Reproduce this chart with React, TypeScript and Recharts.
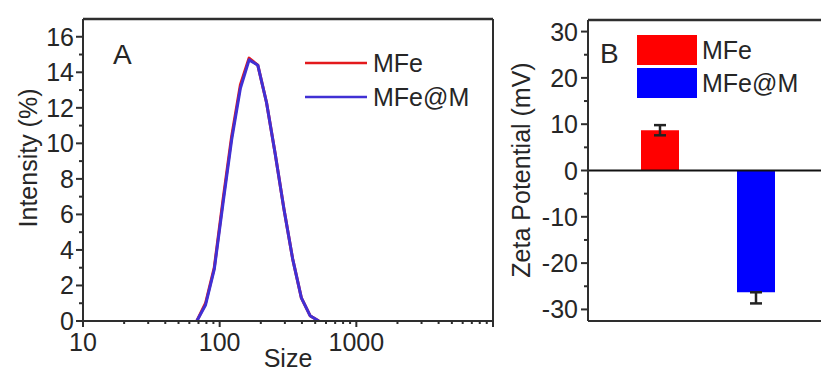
import React from 'react';
import {
  LineChart,
  Line,
  XAxis,
  YAxis,
  ReferenceLine,
  Legend,
  BarChart,
  Bar,
  Cell,
  ErrorBar,
} from 'recharts';

const FONT = '"Liberation Sans", Arial, Helvetica, sans-serif';
const TEXT = '#262626';
const AXIS = '#2e2e2e';

// ---------- Panel A: size distribution ----------
const sizes = [68.06, 78.82, 91.28, 105.7, 122.4, 141.8, 164.2, 190.1, 220.2, 255.0, 295.3, 342.0, 396.1, 458.7, 531.2];
const mfeIntensity = [0, 1.0, 3.0, 6.8, 10.4, 13.3, 14.8, 14.4, 12.3, 9.4, 6.3, 3.5, 1.3, 0.3, 0];
const mfemIntensity = [0, 0.9, 2.9, 6.6, 10.2, 13.1, 14.7, 14.4, 12.3, 9.4, 6.3, 3.5, 1.3, 0.3, 0];
const seriesNamesA = ['MFe', 'MFe@M'];
const seriesColorsA = ['#e3191c', '#4030d4'];
const xMajorTicks = [10, 100, 1000, 10000];
const xMajorLabels = ['10', '100', '1000', ''];
const xMinorTicks = [20, 30, 40, 50, 60, 70, 80, 90, 200, 300, 400, 500, 600, 700, 800, 900, 2000, 3000, 4000, 5000, 6000, 7000, 8000, 9000];
const yTicksA = [0, 1, 2, 3, 4, 5, 6, 7, 8, 9, 10, 11, 12, 13, 14, 15, 16];
const yLabelsA = [0, 2, 4, 6, 8, 10, 12, 14, 16];

// ---------- Panel B: zeta potential ----------
const zetaCategories = ['MFe', 'MFe@M'];
const zetaValues = [8.7, -26.3];
const zetaErrLow = [1.1, 2.4];
const zetaErrHigh = [1.1, 0];
const zetaColors = ['#ff0000', '#0000ff'];
const yTicksB = [-30, -25, -20, -15, -10, -5, 0, 5, 10, 15, 20, 25, 30];
const yLabelsB = [-30, -20, -10, 0, 10, 20, 30];

const dataA = sizes.map((s, i) => ({ size: s, mfe: mfeIntensity[i], mfem: mfemIntensity[i] }));
const dataB = zetaCategories.map((c, i) => ({
  name: c,
  zeta: zetaValues[i],
  err: zetaValues[i] >= 0 ? [zetaErrLow[i], zetaErrHigh[i]] : [zetaErrLow[i], zetaErrHigh[i]],
}));

const XTickA = ({ x, y, payload }: any) => {
  const v = payload.value;
  const idx = xMajorTicks.indexOf(v);
  const major = idx >= 0;
  return (
    <g>
      <line x1={x} x2={x} y1={y} y2={y + (major ? 6 : 3)} stroke={AXIS} strokeWidth={2} />
      {major && xMajorLabels[idx] ? (
        <text x={x} y={y + 30} textAnchor="middle" fontSize={25} fontFamily={FONT} fill={TEXT}>
          {xMajorLabels[idx]}
        </text>
      ) : null}
    </g>
  );
};

const makeYTick = (labels: number[], gap: number) => ({ x, y, payload }: any) => {
  const v = payload.value;
  const major = labels.includes(v);
  return (
    <g>
      <line x1={x - (major ? 7 : 4)} x2={x} y1={y} y2={y} stroke={AXIS} strokeWidth={2} />
      {major ? (
        <text x={x - gap} y={y} dy="0.36em" textAnchor="end" fontSize={25} fontFamily={FONT} fill={TEXT}>
          {String(v)}
        </text>
      ) : null}
    </g>
  );
};

const YTickA = makeYTick(yLabelsA, 9);
const YTickB = makeYTick(yLabelsB, 10);

const VTitle = ({ cx, cy, text }: any) => (
  <text
    x={cx}
    y={cy}
    transform={`rotate(-90 ${cx} ${cy})`}
    textAnchor="middle"
    dominantBaseline="central"
    fontSize={25}
    fontFamily={FONT}
    fill={TEXT}
  >
    {text}
  </text>
);

const LegendA = (props: any) => {
  const payload = props.payload || [];
  return (
    <svg width={220} height={80} style={{ display: 'block' }}>
      {payload.map((p: any, i: number) => (
        <g key={i}>
          <line x1={0} x2={62} y1={18 + 34 * i} y2={18 + 34 * i} stroke={p.color} strokeWidth={2.5} />
          <text x={68} y={18 + 34 * i} dy="0.36em" fontSize={25} fontFamily={FONT} fill={TEXT}>
            {p.value}
          </text>
        </g>
      ))}
    </svg>
  );
};

const LegendB = () => (
  <svg width={200} height={70} style={{ display: 'block' }}>
    {zetaCategories.map((c, i) => (
      <g key={c}>
        <rect x={0} y={33 * i} width={60} height={30} fill={zetaColors[i]} />
        <text x={65} y={15 + 33 * i} dy="0.36em" fontSize={25} fontFamily={FONT} fill={TEXT}>
          {c}
        </text>
      </g>
    ))}
  </svg>
);

export default function App() {
  return (
    <div
      style={{
        position: 'absolute',
        left: 0,
        top: 0,
        width: 821,
        height: 372,
        overflow: 'hidden',
        background: '#fff',
      }}
    >
      <div style={{ position: 'absolute', left: 0, top: 0 }}>
        <LineChart width={520} height={372} data={dataA} margin={{ top: 19, right: 27, bottom: 0, left: 0 }}>
          <XAxis
            dataKey="size"
            type="number"
            scale="log"
            domain={[10, 10000]}
            allowDataOverflow
            ticks={[...xMajorTicks, ...xMinorTicks]}
            interval={0}
            height={51}
            tickSize={0}
            tickMargin={0}
            tickLine={false}
            axisLine={{ stroke: AXIS, strokeWidth: 2 }}
            tick={<XTickA />}
            label={{ value: 'Size', position: 'insideBottom', offset: 5, fontSize: 25, fontFamily: FONT, fill: TEXT }}
          />
          <YAxis
            type="number"
            domain={[0, 17]}
            allowDataOverflow
            ticks={yTicksA}
            interval={0}
            width={83}
            tickSize={0}
            tickMargin={0}
            tickLine={false}
            axisLine={{ stroke: AXIS, strokeWidth: 2 }}
            tick={<YTickA />}
            label={<VTitle cx={28} cy={158} text="Intensity (%)" />}
          />
          <ReferenceLine y={17} stroke={AXIS} strokeWidth={2.5} ifOverflow="visible" />
          <ReferenceLine x={10000} stroke={AXIS} strokeWidth={2} ifOverflow="visible" />
          <Line
            type="linear"
            dataKey="mfe"
            name={seriesNamesA[0]}
            stroke={seriesColorsA[0]}
            strokeWidth={3}
            strokeLinejoin="round"
            dot={false}
            isAnimationActive={false}
          />
          <Line
            type="linear"
            dataKey="mfem"
            name={seriesNamesA[1]}
            stroke={seriesColorsA[1]}
            strokeWidth={3}
            strokeLinejoin="round"
            dot={false}
            isAnimationActive={false}
          />
          <Legend
            layout="vertical"
            align="center"
            verticalAlign="middle"
            content={<LegendA />}
            wrapperStyle={{ position: 'absolute', left: 305, top: 45, width: 220, height: 80 }}
          />
        </LineChart>
      </div>

      <div style={{ position: 'absolute', left: 500, top: 0 }}>
        <BarChart width={360} height={372} data={dataB} margin={{ top: 20, right: 0, bottom: 0, left: 0 }}>
          <XAxis
            dataKey="name"
            type="category"
            height={51}
            padding={{ left: 24, right: 56 }}
            tick={false}
            tickLine={false}
            axisLine={{ stroke: AXIS, strokeWidth: 2 }}
          />
          <YAxis
            type="number"
            domain={[-32.5, 32.5]}
            allowDataOverflow
            ticks={yTicksB}
            interval={0}
            width={88}
            tickSize={0}
            tickMargin={0}
            tickLine={false}
            axisLine={{ stroke: AXIS, strokeWidth: 2 }}
            tick={<YTickB />}
            label={<VTitle cx={21} cy={170} text="Zeta Potential (mV)" />}
          />
          <ReferenceLine y={32.5} stroke={AXIS} strokeWidth={2.5} ifOverflow="visible" />
          <Bar dataKey="zeta" barSize={38} isAnimationActive={false}>
            {dataB.map((d, i) => (
              <Cell key={d.name} fill={zetaColors[i]} />
            ))}
            <ErrorBar dataKey="err" width={6} strokeWidth={2.5} stroke="#222" />
          </Bar>
          <ReferenceLine y={0} stroke="#111" strokeWidth={2} />
          <Legend
            layout="vertical"
            align="center"
            verticalAlign="middle"
            content={<LegendB />}
            wrapperStyle={{ position: 'absolute', left: 137, top: 35, width: 200, height: 70 }}
          />
        </BarChart>
      </div>

      <svg
        width={821}
        height={372}
        style={{ position: 'absolute', left: 0, top: 0, pointerEvents: 'none' }}
      >
        <text x={113} y={64} fontSize={28} fontFamily={FONT} fill={TEXT}>
          A
        </text>
        <text x={600} y={63} fontSize={28} fontFamily={FONT} fill={TEXT}>
          B
        </text>
      </svg>
    </div>
  );
}
